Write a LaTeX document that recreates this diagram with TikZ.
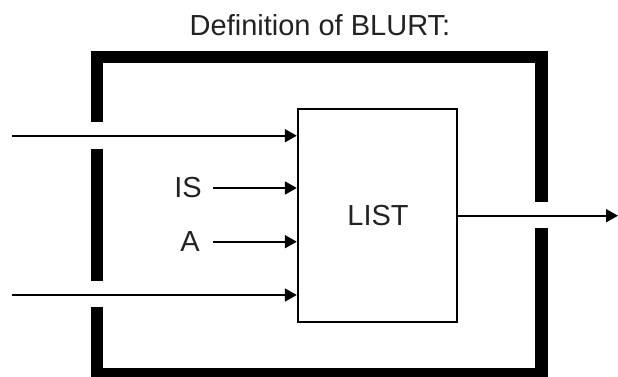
\documentclass[tikz,border=0pt]{standalone}
\usepackage{fontspec}
\setmainfont{Liberation Sans}
\usetikzlibrary{arrows.meta}
\definecolor{txt}{HTML}{222222}
\begin{document}
\begin{tikzpicture}[x=1pt,y=-1pt,
  frame/.style={line width=12.5pt,line cap=butt,line join=miter},
  flow/.style={line width=1.9pt,-{Triangle[length=12pt,width=13pt]}},
  lbl/.style={font=\fontsize{29}{32}\selectfont,text=txt,inner sep=0pt},
  listbox/.style={draw,line width=1.8pt,minimum width=159pt,minimum height=212.7pt,inner sep=0pt}]
\useasboundingbox (0,0) rectangle (618,376);
\fill[white] (0,0) rectangle (618,376);
% title
\node[lbl] (title) at (320,25) {Definition of BLURT:};
% outer frame
\draw[frame] (97,121.7) -- (97,57) -- (541.5,57) -- (541.5,201.7);
\draw[frame] (97,149) -- (97,281);
\draw[frame] (541.5,228) -- (541.5,374) -- (97,374) -- (97,307);
% box
\node[listbox] (list) at (377.2,215.4) {};
\node[lbl] (listtxt) at (378,216) {LIST};
% labels
\node[lbl] (is) at (188,188) {IS};
\node[lbl] (a) at (190,241.5) {A};
% free ends
\coordinate (in1) at (12,135.7);
\coordinate (in4) at (12,295);
\coordinate (isS) at (213,188);
\coordinate (aS) at (213,241.7);
\coordinate (out) at (618,215.7);
% arrows
\draw[flow] (in1) -- (in1 -| list.west);
\draw[flow] (isS) -- (isS -| list.west);
\draw[flow] (aS) -- (aS -| list.west);
\draw[flow] (in4) -- (in4 -| list.west);
\draw[flow] (out -| list.east) -- (out);
\end{tikzpicture}
\end{document}
